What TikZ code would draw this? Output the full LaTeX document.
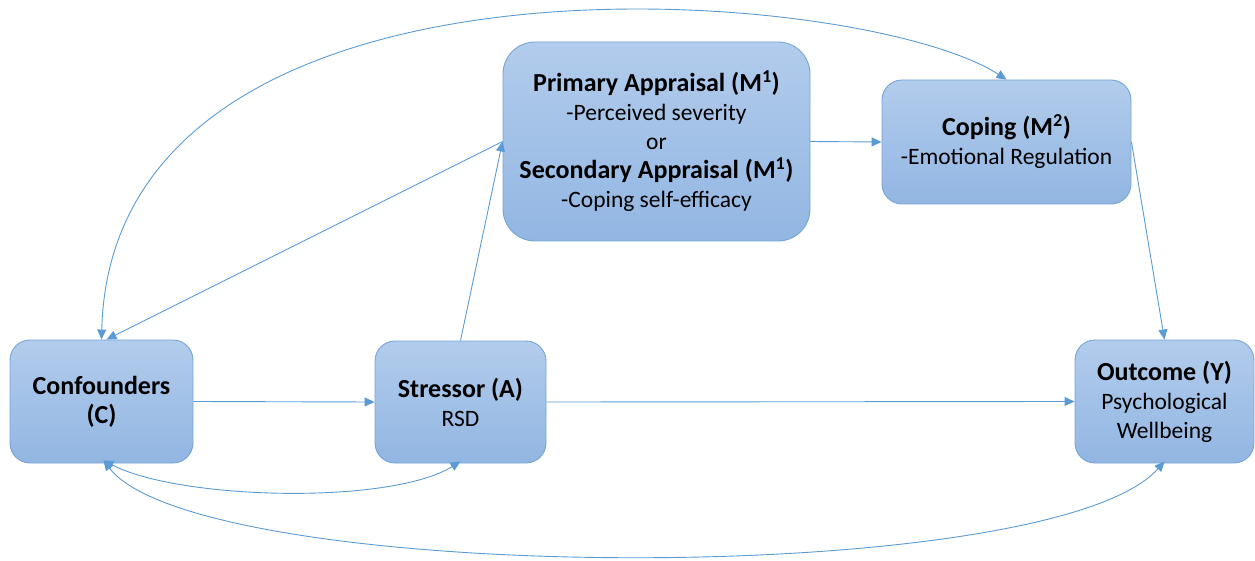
\documentclass[tikz,border=0pt]{standalone}
\usepackage{fontspec}
\setmainfont{Carlito}
\usetikzlibrary{arrows.meta}

\definecolor{boxtop}{RGB}{178,204,236}
\definecolor{boxbottom}{RGB}{146,182,226}
\definecolor{boxline}{RGB}{118,164,215}
\definecolor{linkblue}{RGB}{91,155,213}

% heading line inside a box
\newcommand{\boxhead}[1]{{\fontsize{26}{28.5}\selectfont\bfseries #1}}

\tikzset{
  stagebox/.style={draw=boxline, line width=0.9pt, top color=boxtop, bottom color=boxbottom,
    rounded corners=20pt, align=center, inner sep=0pt, text=black,
    font=\fontsize{23.5}{29}\selectfont},
  link/.style={draw=linkblue, line width=0.9pt, -{Triangle[length=10pt,width=9pt]}},
  twoway/.style={draw=linkblue, line width=0.9pt, {Triangle[length=10pt,width=9pt]}-{Triangle[length=10pt,width=9pt]}},
}

\begin{document}
\begin{tikzpicture}[x=1pt, y=-1pt]
\useasboundingbox (0,0) rectangle (1255,561);

% boxes
\node[stagebox, minimum width=183pt, minimum height=123pt] (conf) at (101.5,401.5)
  {\boxhead{Confounders}\\\boxhead{(C)}};
\node[stagebox, minimum width=171pt, minimum height=122pt] (stress) at (460.5,402)
  {\boxhead{Stressor (A)}\\RSD};
\node[stagebox, rounded corners=32pt, minimum width=307pt, minimum height=199pt] (appr) at (656.5,141.5)
  {\boxhead{Primary Appraisal (M\textsuperscript{1})}\\-Perceived severity\\or\\
   \boxhead{Secondary Appraisal (M\textsuperscript{1})}\\-Coping self-efficacy};
\node[stagebox, minimum width=249pt, minimum height=124pt] (cop) at (1006.5,142)
  {\boxhead{Coping (M\textsuperscript{2})}\\-Emotional Regulation};
\node[stagebox, minimum width=179pt, minimum height=123pt] (out) at (1164.5,401.5)
  {\boxhead{Outcome (Y)}\\Psychological\\Wellbeing};

% straight paths
\draw[link] (conf.east) -- (stress.west);
\draw[link] (stress.east) -- (out.west);
\draw[link] (stress.north) -- (appr.west);
\draw[link] (appr.west) -- ([xshift=5pt]conf.north);
\draw[link] (appr.east) -- (cop.west);
\draw[link] (cop.east) -- (out.north);

% curved associations
\draw[twoway] (conf.north) .. controls (112,-75) and (860,-15) .. (cop.north);
\draw[twoway] ([xshift=2pt,yshift=3pt]conf.south) .. controls (180,500) and (390,505) .. ([yshift=2pt]stress.south);
\draw[twoway] ([xshift=2pt,yshift=3pt]conf.south) .. controls (200,585) and (1050,590) .. ([yshift=2pt]out.south);
\end{tikzpicture}
\end{document}
